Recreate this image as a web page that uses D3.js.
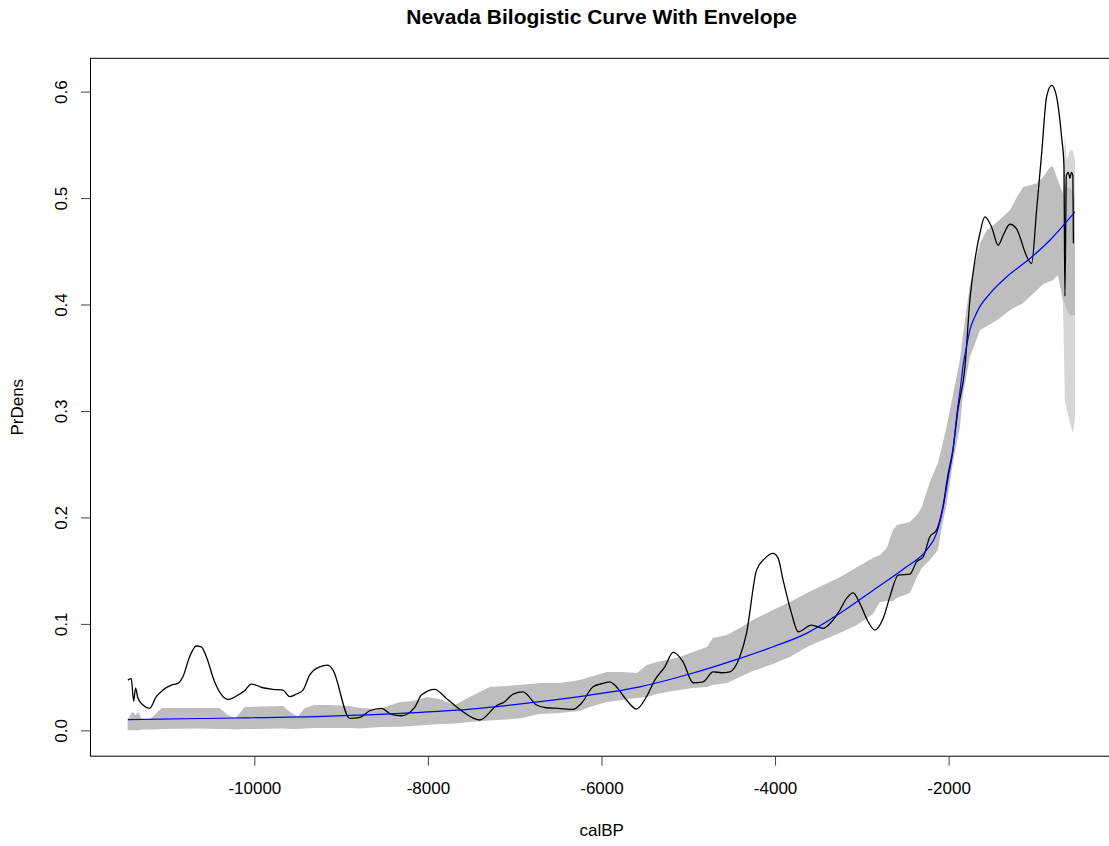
<!DOCTYPE html>
<html>
<head>
<meta charset="utf-8">
<script src="https://cdn.jsdelivr.net/npm/d3@7"></script>
<style>
  body { margin: 0; background: #fff; }
  svg { display: block; font-family: "Liberation Sans", Arial, sans-serif; }
</style>
</head>
<body>
<div id="chart"></div>
<script>
const size = { width: 1109, height: 846 };

// plot limits (R style: data range + 4%)
const xLim = [-11888, -108];
const yLim = [-0.0243, 0.6313];

const xTicks = [-10000, -8000, -6000, -4000, -2000];
const yTicks = [0.0, 0.1, 0.2, 0.3, 0.4, 0.5, 0.6];

// simulation envelope
const envYear = [-11460, -11403, -11368, -11334, -11299, -11207, -11149, -11069, -10631, -10400,
  -10308, -10216, -10112, -9674, -9570, -9501, -9420, -9305, -9132, -8901,
  -8786, -8555, -8325, -8175, -8014, -7864, -7691, -7518, -7287, -6942,
  -6711, -6481, -6250, -6135, -5939, -5754, -5593, -5478, -5362, -5247,
  -5097, -4947, -4786, -4717, -4555, -4406, -4256, -4025, -3829, -3633,
  -3449, -3253, -3057, -2873, -2792, -2711, -2642, -2596, -2446, -2366,
  -2308, -2216, -2124, -2078, -2020, -1951, -1870, -1836, -1755, -1640,
  -1559, -1444, -1294, -1213, -1144, -983, -914, -833, -798, -741,
  -683, -660, -637, -602, -568, -545];
const envHi = [0.0103, 0.0175, 0.0144, 0.0175, 0.0106, 0.0106, 0.0144, 0.0209, 0.0209, 0.0209,
  0.0144, 0.0115, 0.0219, 0.0228, 0.0162, 0.0128, 0.0209, 0.0238, 0.0238, 0.0228,
  0.0209, 0.0200, 0.0266, 0.0275, 0.0313, 0.0294, 0.0238, 0.0313, 0.0407, 0.0425,
  0.0444, 0.0444, 0.0472, 0.0500, 0.0547, 0.0547, 0.0538, 0.0613, 0.0641, 0.0660,
  0.0688, 0.0735, 0.0782, 0.0867, 0.0895, 0.0961, 0.1036, 0.1130, 0.1205, 0.1289,
  0.1364, 0.1439, 0.1533, 0.1618, 0.1646, 0.1712, 0.1881, 0.1928, 0.1956, 0.2022,
  0.2097, 0.2332, 0.2510, 0.2660, 0.2867, 0.3148, 0.3477, 0.3712, 0.4181, 0.4576,
  0.4698, 0.4773, 0.4886, 0.5008, 0.5102, 0.5139, 0.5196, 0.5289, 0.5299, 0.5167,
  0.5045, 0.5150, 0.5100, 0.5100, 0.5050, 0.5000];
const envLo = [0.0000, 0.0000, 0.0000, 0.0000, 0.0008, 0.0008, 0.0008, 0.0012, 0.0017, 0.0012,
  0.0012, 0.0008, 0.0012, 0.0017, 0.0012, 0.0012, 0.0017, 0.0022, 0.0022, 0.0022,
  0.0017, 0.0031, 0.0034, 0.0040, 0.0050, 0.0059, 0.0064, 0.0078, 0.0092, 0.0111,
  0.0153, 0.0162, 0.0181, 0.0219, 0.0266, 0.0285, 0.0303, 0.0313, 0.0341, 0.0360,
  0.0378, 0.0397, 0.0407, 0.0425, 0.0444, 0.0500, 0.0557, 0.0622, 0.0688, 0.0782,
  0.0848, 0.0914, 0.0989, 0.1092, 0.1205, 0.1214, 0.1214, 0.1242, 0.1289, 0.1439,
  0.1524, 0.1599, 0.1693, 0.1909, 0.2134, 0.2510, 0.2848, 0.3148, 0.3505, 0.3759,
  0.3796, 0.3853, 0.3947, 0.3984, 0.4012, 0.4134, 0.4191, 0.4219, 0.4228, 0.4275,
  0.4041, 0.4000, 0.3950, 0.3900, 0.3900, 0.3900];

// faint outer part of the envelope at the young end
const tailYear = [-683, -660, -637, -602, -568, -545];
const tailHi = [0.5045, 0.5590, 0.5355, 0.5449, 0.5449, 0.5355];
const tailLo = [0.4041, 0.3102, 0.3008, 0.2886, 0.2792, 0.2914];

// observed summed probability density
const spdYear = [-11458, -11418, -11391, -11368, -11342, -11284, -11207, -11130, -11054, -10957,
  -10881, -10823, -10746, -10669, -10611, -10553, -10458, -10304, -10169, -10112,
  -10035, -9901, -9786, -9670, -9593, -9516, -9440, -9363, -9247, -9152,
  -9094, -8901, -8786, -8671, -8536, -8421, -8306, -8152, -8075, -7922,
  -7787, -7634, -7403, -7210, -7115, -7019, -6904, -6749, -6634, -6500,
  -6327, -6231, -6097, -5982, -5904, -5847, -5712, -5597, -5481, -5386,
  -5270, -5175, -5060, -4944, -4829, -4714, -4617, -4521, -4406, -4329,
  -4213, -4118, -4022, -3964, -3907, -3810, -3734, -3580, -3446, -3349,
  -3253, -3176, -3100, -3023, -2927, -2850, -2754, -2677, -2581, -2446,
  -2369, -2293, -2216, -2139, -2062, -2008, -1951, -1893, -1812, -1755,
  -1697, -1640, -1582, -1505, -1429, -1371, -1294, -1217, -1178, -1121,
  -1044, -986, -928, -871, -813, -764, -698, -671, -660, -643,
  -620, -602, -585, -568, -562];
const spdDens = [0.0472, 0.0485, 0.0275, 0.0397, 0.0303, 0.0238, 0.0207, 0.0316, 0.0378, 0.0425,
  0.0441, 0.0503, 0.0691, 0.0792, 0.0785, 0.0691, 0.0456, 0.0291, 0.0341, 0.0372,
  0.0435, 0.0400, 0.0385, 0.0378, 0.0316, 0.0341, 0.0378, 0.0519, 0.0597, 0.0613,
  0.0566, 0.0113, 0.0122, 0.0184, 0.0207, 0.0150, 0.0137, 0.0216, 0.0331, 0.0385,
  0.0300, 0.0197, 0.0097, 0.0231, 0.0269, 0.0341, 0.0362, 0.0238, 0.0212, 0.0207,
  0.0197, 0.0254, 0.0409, 0.0441, 0.0456, 0.0425, 0.0285, 0.0200, 0.0316, 0.0472,
  0.0597, 0.0732, 0.0644, 0.0447, 0.0456, 0.0550, 0.0541, 0.0550, 0.0691, 0.0911,
  0.1505, 0.1615, 0.1662, 0.1615, 0.1411, 0.1099, 0.0926, 0.0989, 0.0958, 0.1020,
  0.1130, 0.1239, 0.1292, 0.1193, 0.1020, 0.0942, 0.1052, 0.1254, 0.1458, 0.1468,
  0.1583, 0.1630, 0.1818, 0.1881, 0.2116, 0.2397, 0.2632, 0.3008, 0.3411, 0.4040,
  0.4416, 0.4667, 0.4823, 0.4729, 0.4557, 0.4651, 0.4754, 0.4710, 0.4635, 0.4494,
  0.4385, 0.4886, 0.5418, 0.5950, 0.6059, 0.5981, 0.5574, 0.5308, 0.4078, 0.5214,
  0.5242, 0.5186, 0.5242, 0.5214, 0.4576];

// fitted bilogistic curve
const fitYear = [-11458, -10631, -9132, -8325, -7403, -6711, -6135, -5559, -4982, -4406,
  -4022, -3637, -3253, -2869, -2485, -2254, -2139, -2062, -2000, -1951,
  -1900, -1870, -1832, -1790, -1755, -1700, -1640, -1524, -1332, -1063,
  -833, -545];
const fitDens = [0.0101, 0.0111, 0.0134, 0.0160, 0.0207, 0.0269, 0.0331, 0.0409, 0.0529, 0.0676,
  0.0785, 0.0911, 0.1099, 0.1317, 0.1536, 0.1693, 0.1850, 0.2100, 0.2400, 0.2620,
  0.3000, 0.3180, 0.3430, 0.3620, 0.3760, 0.3880, 0.3980, 0.4103, 0.4259, 0.4432,
  0.4604, 0.4870];

const margin = { left: 90.5, top: 58.3, right: 1112.8, bottom: 756.2 };

const svg = d3.select("#chart")
  .append("svg")
  .attr("width", size.width)
  .attr("height", size.height);

//scales
const x = d3.scaleLinear().domain(xLim).range([margin.left, margin.right]);
const y = d3.scaleLinear().domain(yLim).range([margin.bottom, margin.top]);

const env = envYear.map((d, i) => ({ x: d, lo: envLo[i], hi: envHi[i] }));
const tail = tailYear.map((d, i) => ({ x: d, lo: tailLo[i], hi: tailHi[i] }));
const spd = spdYear.map((d, i) => ({ x: d, y: spdDens[i] }));
const fit = fitYear.map((d, i) => ({ x: d, y: fitDens[i] }));

const area = d3.area()
  .x(d => x(d.x))
  .y0(d => y(d.lo))
  .y1(d => y(d.hi));

//envelope (faint tail first, then main band)
svg.append("path")
  .datum(tail)
  .attr("fill", "#d6d6d6")
  .attr("d", area);

svg.append("path")
  .datum(env)
  .attr("fill", "#bebebe")
  .attr("d", area);

//observed SPD
svg.append("path")
  .datum(spd)
  .attr("fill", "none")
  .attr("stroke", "#000")
  .attr("stroke-width", 1.3)
  .attr("stroke-linejoin", "round")
  .attr("d", d3.line()
    .curve(d3.curveMonotoneX)
    .x(d => x(d.x))
    .y(d => y(d.y)));

//fitted curve
svg.append("path")
  .datum(fit)
  .attr("fill", "none")
  .attr("stroke", "#0000ff")
  .attr("stroke-width", 1.2)
  .attr("d", d3.line()
    .curve(d3.curveMonotoneX)
    .x(d => x(d.x))
    .y(d => y(d.y)));

//box
svg.append("rect")
  .attr("x", margin.left)
  .attr("y", margin.top)
  .attr("width", margin.right - margin.left)
  .attr("height", margin.bottom - margin.top)
  .attr("fill", "none")
  .attr("stroke", "#000")
  .attr("stroke-width", 1);

//axes (plain hyphen for negatives, like R)
const xAxis = svg.append("g")
  .attr("transform", `translate(0,${margin.bottom})`)
  .call(d3.axisBottom(x).tickValues(xTicks).tickSize(9.5).tickPadding(16).tickFormat(d => String(d)));
xAxis.select(".domain").remove();
xAxis.selectAll("text").attr("font-size", 17).attr("fill", "#000")
  .attr("font-family", "Liberation Sans, Arial, sans-serif");
xAxis.selectAll("line").attr("stroke", "#444");

const yAxis = svg.append("g")
  .attr("transform", `translate(${margin.left},0)`)
  .call(d3.axisLeft(y).tickValues(yTicks).tickSize(9.5).tickFormat(d => d.toFixed(1)));
yAxis.select(".domain").remove();
yAxis.selectAll("line").attr("stroke", "#444");
yAxis.selectAll("text")
  .attr("font-size", 17)
  .attr("fill", "#000")
  .attr("font-family", "Liberation Sans, Arial, sans-serif")
  .attr("text-anchor", "middle")
  .attr("x", 0)
  .attr("dy", 0)
  .attr("transform", "translate(-24,0) rotate(-90)");

//labels
svg.append("text")
  .attr("x", (margin.left + margin.right) / 2)
  .attr("y", 24)
  .attr("text-anchor", "middle")
  .attr("font-size", 21)
  .attr("font-weight", "bold")
  .text("Nevada Bilogistic Curve With Envelope");

svg.append("text")
  .attr("x", (margin.left + margin.right) / 2)
  .attr("y", 836)
  .attr("text-anchor", "middle")
  .attr("font-size", 17)
  .text("calBP");

svg.append("text")
  .attr("transform", `translate(23,${(margin.top + margin.bottom) / 2}) rotate(-90)`)
  .attr("text-anchor", "middle")
  .attr("font-size", 17)
  .text("PrDens");
</script>
</body>
</html>
